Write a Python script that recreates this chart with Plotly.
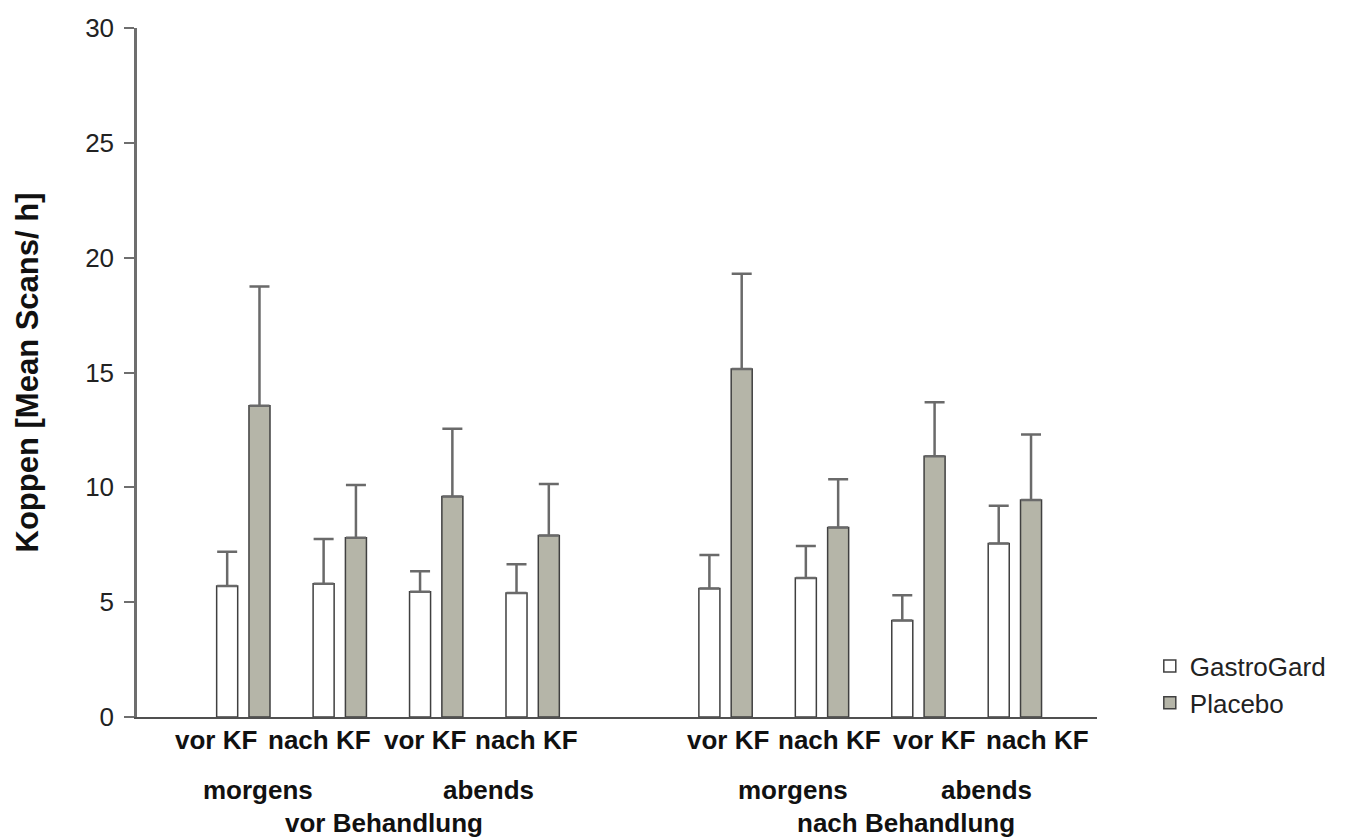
import plotly.graph_objects as go

# ---- data ----
phases = ["vor Behandlung", "nach Behandlung"]
daytimes = ["morgens", "abends"]
feed_labels = ["vor KF", "nach KF", "vor KF", "nach KF", "vor KF", "nach KF", "vor KF", "nach KF"]
slot_index = [0, 1, 2, 3, 5, 6, 7, 8]

gastrogard_mean = [5.7, 5.8, 5.45, 5.4, 5.6, 6.05, 4.2, 7.55]
gastrogard_err = [1.5, 1.95, 0.9, 1.25, 1.45, 1.4, 1.1, 1.65]
placebo_mean = [13.55, 7.8, 9.6, 7.9, 15.15, 8.25, 11.35, 9.45]
placebo_err = [5.2, 2.3, 2.95, 2.25, 4.15, 2.1, 2.35, 2.85]

y_ticks = [0, 5, 10, 15, 20, 25, 30]

FONT = "Liberation Sans, Arial, sans-serif"
BAR_W = 0.218

fig = go.Figure()
fig.add_trace(go.Bar(
    name="GastroGard", x=slot_index, y=gastrogard_mean,
    width=BAR_W, offset=-0.273,
    marker=dict(color="white", line=dict(color="#404040", width=1.5)),
    error_y=dict(type="data", array=gastrogard_err, symmetric=False,
                 arrayminus=[0] * len(gastrogard_err),
                 color="#6a6a6a", thickness=2.5, width=10),
))
fig.add_trace(go.Bar(
    name="Placebo", x=slot_index, y=placebo_mean,
    width=BAR_W, offset=0.062,
    marker=dict(color="#b5b5a8", line=dict(color="#404040", width=1.5)),
    error_y=dict(type="data", array=placebo_err, symmetric=False,
                 arrayminus=[0] * len(placebo_err),
                 color="#6a6a6a", thickness=2.5, width=10),
))

annotations = []
# feeding labels (spread wider than the bar pairs, as in the original)
feed_label_x = [-0.285, 0.793, 1.882, 2.94, 5.024, 6.081, 7.16, 8.238]
for lx, txt in zip(feed_label_x, feed_labels):
    annotations.append(dict(x=lx, y=0, xref="x", yref="paper", yshift=-23,
                            text=f"<b>{txt}</b>", showarrow=False,
                            xanchor="center", yanchor="middle",
                            font=dict(family=FONT, size=26, color="#111111")))
daytime_x = [0.156, 2.546, 5.703, 7.71]
for i, lx in enumerate(daytime_x):
    annotations.append(dict(x=lx, y=0, xref="x", yref="paper", yshift=-73,
                            text=f"<b>{daytimes[i % 2]}</b>", showarrow=False,
                            xanchor="center", yanchor="middle",
                            font=dict(family=FONT, size=26, color="#111111")))
phase_x = [1.462, 6.87]
for lx, txt in zip(phase_x, phases):
    annotations.append(dict(x=lx, y=0, xref="x", yref="paper", yshift=-106,
                            text=f"<b>{txt}</b>", showarrow=False,
                            xanchor="center", yanchor="middle",
                            font=dict(family=FONT, size=26, color="#111111")))

fig.update_layout(
    width=1348, height=840,
    margin=dict(l=129, r=259, t=20, b=131, autoexpand=False),
    plot_bgcolor="white", paper_bgcolor="white",
    showlegend=True,
    legend=dict(x=1.055, y=0.108, xanchor="left", yanchor="top",
                font=dict(family=FONT, size=26, color="#222222"),
                tracegroupgap=0, bgcolor="rgba(0,0,0,0)"),
    annotations=annotations,
    font=dict(family=FONT),
)
fig.update_xaxes(range=[-1.099, 8.855], showticklabels=False, ticks="",
                 showgrid=False, zeroline=False, showline=True, automargin=False,
                 linecolor="#505050", linewidth=2)
fig.update_yaxes(range=[0, 30], tickvals=y_ticks, ticks="outside", ticklen=10,
                 tickwidth=2, tickcolor="#6e6e6e", showgrid=False, zeroline=False,
                 showline=True, linecolor="#6e6e6e", linewidth=2.5, automargin=False,
                 ticklabelstandoff=5,
                 tickfont=dict(family=FONT, size=26, color="#222222"),
                 title=dict(text="<b>Koppen [Mean Scans/ h]</b>",
                            font=dict(family=FONT, size=31, color="#111111"),
                            standoff=38))

fig.write_html("out.html")
